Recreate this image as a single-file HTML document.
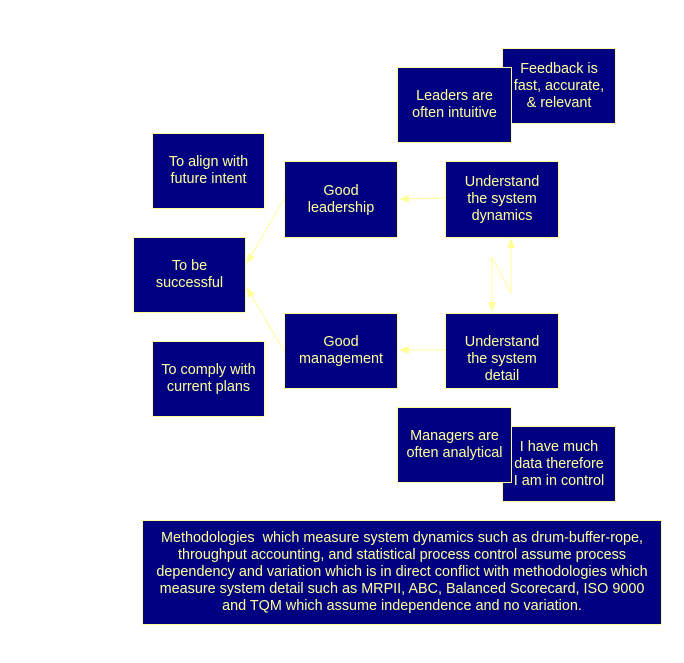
<!DOCTYPE html>
<html><head><meta charset="utf-8"><style>
body{margin:0;width:684px;height:663px;background:#fff;position:relative;overflow:hidden;font-family:"Liberation Sans",Arial,sans-serif}
.b{position:absolute;box-sizing:border-box;background:#000080;border:1px solid #ffff99;color:#ffff99;font-size:14.4px;line-height:17px;text-align:center;display:flex;align-items:center;justify-content:center;overflow:hidden}
svg{position:absolute;left:0;top:0}
</style></head><body>
<div class="b" style="left:152px;top:133px;width:113px;height:76px">To align with<br>future intent</div>
<div class="b" style="left:284px;top:161px;width:114px;height:77px">Good<br>leadership</div>
<div class="b" style="left:445px;top:161px;width:114px;height:77px">Understand<br>the system<br>dynamics</div>
<div class="b" style="left:133px;top:237px;width:113px;height:76px">To be<br>successful</div>
<div class="b" style="left:284px;top:313px;width:114px;height:76px">Good<br>management</div>
<div class="b" style="left:445px;top:313px;width:114px;height:76px;align-items:flex-start"><div style="box-sizing:border-box;padding-top:20px;height:66px;overflow:hidden">Understand<br>the system<br>detail</div></div>
<div class="b" style="left:152px;top:341px;width:113px;height:76px">To comply with<br>current plans</div>
<div class="b" style="left:502px;top:48px;width:114px;height:76px">Feedback is<br>fast, accurate,<br>&amp; relevant</div>
<div class="b" style="left:397px;top:67px;width:115px;height:76px">Leaders are<br>often intuitive</div>
<div class="b" style="left:502px;top:426px;width:114px;height:76px">I have much<br>data therefore<br>I am in control</div>
<div class="b" style="left:397px;top:407px;width:115px;height:76px">Managers are<br>often analytical</div>
<div class="b" style="left:142px;top:520px;width:520px;height:105px">Methodologies &nbsp;which measure system dynamics such as drum-buffer-rope,<br>throughput accounting, and statistical process control assume process<br>dependency and variation which is in direct conflict with methodologies which<br>measure system detail such as MRPII, ABC, Balanced Scorecard, ISO 9000<br>and TQM which assume independence and no variation.</div>
<svg width="684" height="663">
<defs><marker id="a" markerWidth="10" markerHeight="10" refX="9" refY="5" orient="auto" markerUnits="userSpaceOnUse"><path d="M0,1 L10,5 L0,9 z" fill="#ffff99"/></marker></defs>
<g stroke="#ffff99" stroke-width="1" fill="none">
<line x1="284" y1="199" x2="247" y2="263" marker-end="url(#a)"/>
<line x1="284" y1="351" x2="247" y2="288" marker-end="url(#a)"/>
<line x1="445" y1="198" x2="400" y2="199" marker-end="url(#a)"/>
<line x1="445" y1="350" x2="400" y2="350" marker-end="url(#a)"/>
<line x1="492" y1="257" x2="492" y2="311" marker-end="url(#a)"/>
<polyline points="492,257 511,293 511,239" marker-end="url(#a)"/>
</g></svg>
</body></html>
